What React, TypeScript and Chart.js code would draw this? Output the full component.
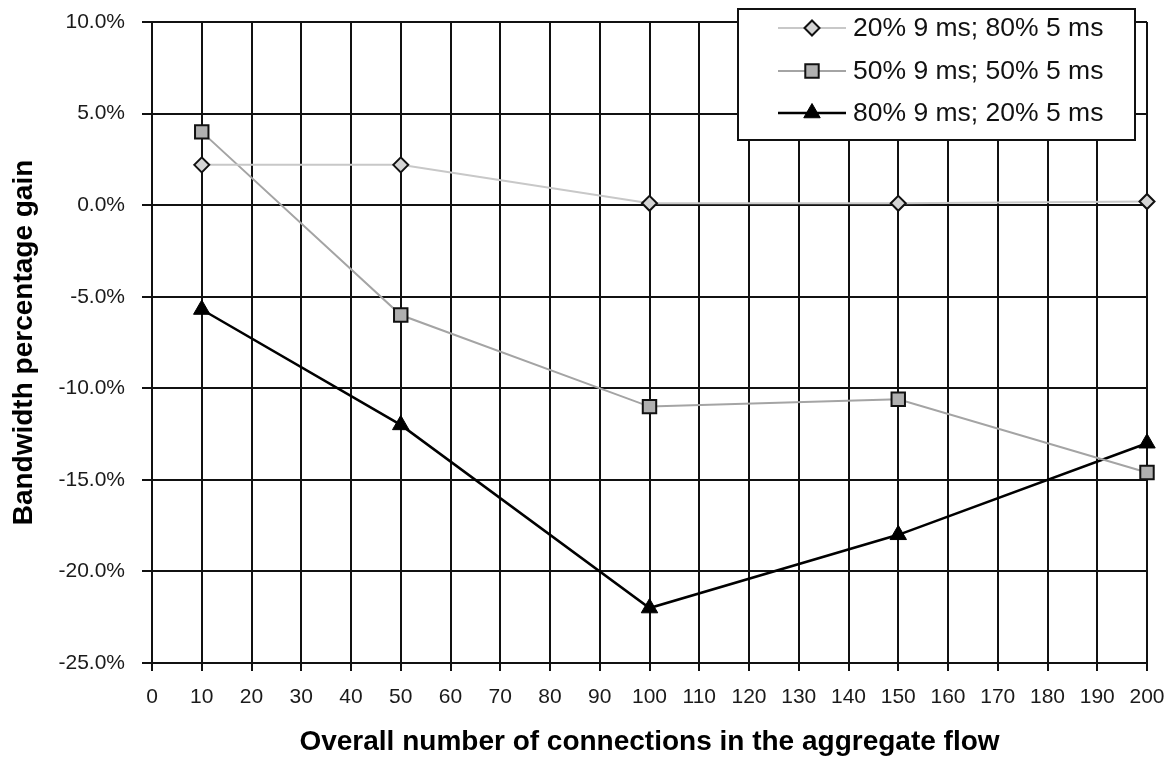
import React, { useEffect, useRef } from "react";
import { Chart, registerables } from "chart.js";

Chart.register(...registerables);

const connections = [10, 50, 100, 150, 200];
const series20 = [2.2, 2.2, 0.1, 0.1, 0.2];
const series50 = [4.0, -6.0, -11.0, -10.6, -14.6];
const series80 = [-5.7, -12.0, -22.0, -18.0, -13.0];
const seriesLabels = ["20% 9 ms; 80% 5 ms", "50% 9 ms; 50% 5 ms", "80% 9 ms; 20% 5 ms"];
const xTitle = "Overall number of connections in the aggregate flow";
const yTitle = "Bandwidth percentage gain";

const FONT = '"Liberation Sans", Arial, Helvetica, sans-serif';

function drawMarker(ctx: CanvasRenderingContext2D, style: string, x: number, y: number, r: number, fill: string, stroke: string, lw: number) {
  ctx.save();
  ctx.beginPath();
  if (style === "rectRot") {
    ctx.moveTo(x - r, y);
    ctx.lineTo(x, y - r);
    ctx.lineTo(x + r, y);
    ctx.lineTo(x, y + r);
    ctx.closePath();
  } else if (style === "rect") {
    const s = Math.SQRT1_2 * r;
    ctx.rect(x - s, y - s, 2 * s, 2 * s);
  } else {
    const a = (2 * Math.PI) / 3;
    ctx.moveTo(x, y - r);
    ctx.lineTo(x + Math.sin(a) * r, y - Math.cos(a) * r);
    ctx.lineTo(x + Math.sin(2 * a) * r, y - Math.cos(2 * a) * r);
    ctx.closePath();
  }
  ctx.fillStyle = fill;
  ctx.fill();
  ctx.lineWidth = lw;
  ctx.strokeStyle = stroke;
  ctx.stroke();
  ctx.restore();
}

const boxLegend = {
  id: "boxLegend",
  afterDraw(chart: any) {
    const ctx: CanvasRenderingContext2D = chart.ctx;
    const left = 738, top = 9, right = 1135, bottom = 140;
    ctx.save();
    ctx.fillStyle = "#ffffff";
    ctx.fillRect(left, top, right - left, bottom - top);
    ctx.lineWidth = 2;
    ctx.strokeStyle = "#111111";
    ctx.strokeRect(left, top, right - left, bottom - top);
    const rows = [28, 71, 113];
    chart.data.datasets.forEach((ds: any, i: number) => {
      const y = rows[i];
      ctx.beginPath();
      ctx.moveTo(778, y);
      ctx.lineTo(846, y);
      ctx.lineWidth = ds.borderWidth;
      ctx.strokeStyle = ds.borderColor;
      ctx.stroke();
      drawMarker(ctx, ds.pointStyle, 812, y, ds.pointRadius, ds.pointBackgroundColor, ds.pointBorderColor, ds.pointBorderWidth);
      ctx.fillStyle = "#111111";
      ctx.font = `26.5px ${FONT}`;
      ctx.textBaseline = "middle";
      ctx.textAlign = "left";
      ctx.fillText(ds.label, 853, y + 1);
    });
    ctx.restore();
  },
};

export default function App() {
  const ref = useRef<HTMLCanvasElement | null>(null);
  useEffect(() => {
    if (!ref.current) return;
    const mk = (vals: number[]) => connections.map((x, i) => ({ x, y: vals[i] }));
    const chart = new Chart(ref.current, {
      type: "line",
      data: {
        datasets: [
          {
            label: seriesLabels[0],
            data: mk(series20),
            borderColor: "#c8c8c8",
            borderWidth: 2,
            pointStyle: "rectRot",
            pointRadius: 7.5,
            pointBackgroundColor: "#d4d4d4",
            pointBorderColor: "#111111",
            pointBorderWidth: 2,
            tension: 0,
            clip: false,
          },
          {
            label: seriesLabels[1],
            data: mk(series50),
            borderColor: "#a4a4a4",
            borderWidth: 2,
            pointStyle: "rect",
            pointRadius: 9.5,
            pointBackgroundColor: "#b0b0b0",
            pointBorderColor: "#111111",
            pointBorderWidth: 2,
            tension: 0,
            clip: false,
          },
          {
            label: seriesLabels[2],
            data: mk(series80),
            borderColor: "#000000",
            borderWidth: 2.5,
            pointStyle: "triangle",
            pointRadius: 9.5,
            pointBackgroundColor: "#000000",
            pointBorderColor: "#000000",
            pointBorderWidth: 1,
            tension: 0,
            clip: false,
          },
        ] as any,
      },
      options: {
        animation: false,
        responsive: false,
        events: [],
        layout: { padding: { top: 22, right: 24, left: 0, bottom: 0 } },
        plugins: { legend: { display: false }, tooltip: { enabled: false } },
        scales: {
          x: {
            type: "linear",
            min: 0,
            max: 200,
            afterFit: (s: any) => { s.height = 97; s.paddingLeft = 0; s.paddingRight = 0; },
            ticks: { stepSize: 10, autoSkip: false, maxRotation: 0, padding: 14, color: "#1a1a1a", font: { family: FONT, size: 21 } },
            grid: { color: "#111111", lineWidth: 2, tickLength: 8 },
            border: { color: "#111111", width: 2 },
            title: { display: true, text: xTitle, color: "#000000", font: { family: FONT, size: 28, weight: "bold", lineHeight: 1.2 }, padding: { top: 0, bottom: 1 } },
          },
          y: {
            type: "linear",
            min: -25,
            max: 10,
            afterFit: (s: any) => { s.width = 152; s.paddingTop = 0; s.paddingBottom = 0; },
            ticks: { stepSize: 5, padding: 17, color: "#1a1a1a", font: { family: FONT, size: 21 }, callback: (v: any) => Number(v).toFixed(1) + "%" },
            grid: { color: "#111111", lineWidth: 2, tickLength: 10 },
            border: { color: "#111111", width: 2 },
            title: { display: true, text: yTitle, color: "#000000", font: { family: FONT, size: 28, weight: "bold", lineHeight: 1.2 }, padding: { top: 7, bottom: 0 } },
          },
        },
      } as any,
      plugins: [boxLegend],
    });
    return () => chart.destroy();
  }, []);
  return (
    <div style={{ position: "absolute", left: 0, top: 0, width: 1171, height: 760, background: "#fff" }}>
      <canvas ref={ref} width={1171} height={760} style={{ display: "block" }} />
    </div>
  );
}
